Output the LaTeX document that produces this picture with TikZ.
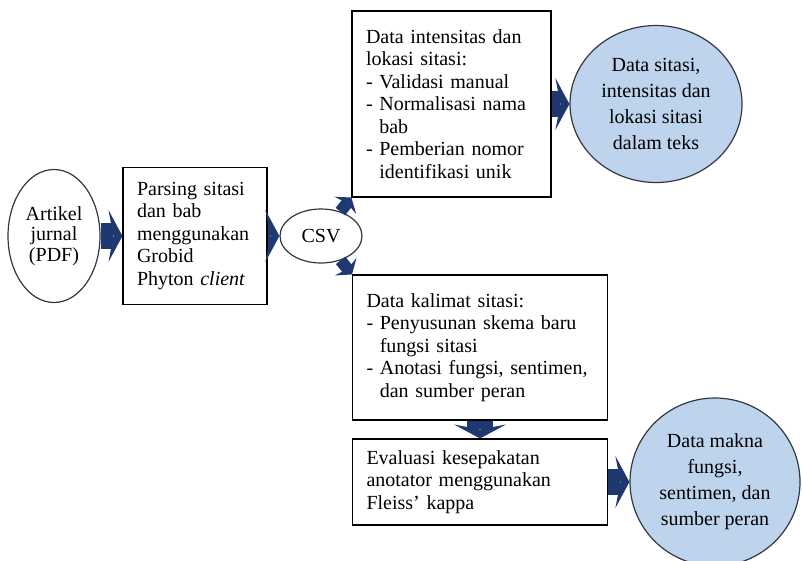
\documentclass[tikz,border=0pt]{standalone}
\usepackage{fontspec}
\setmainfont{Liberation Serif}
\usetikzlibrary{arrows.meta,shapes.geometric}

\definecolor{navyarrow}{RGB}{31,56,112}
\definecolor{paleblue}{RGB}{190,212,236}
\definecolor{rimgray}{RGB}{50,55,65}

\tikzset{
	stepbox/.style={draw=black, line width=1.1pt, fill=white, align=left, inner xsep=14pt, inner ysep=0pt, font=\fontsize{20}{22.5}\selectfont},
	oval/.style={ellipse, draw=rimgray, line width=1.2pt, fill=white, align=center, inner sep=0pt, font=\fontsize{20}{20.5}\selectfont},
	result/.style={ellipse, draw=rimgray, line width=1.2pt, fill=paleblue, align=center, inner sep=0pt, font=\fontsize{20}{26}\selectfont},
	flow/.style={draw=navyarrow, line width=26pt, -{Stealth[length=14pt, width=52pt, inset=5pt, line width=0pt]}},
	flowsmall/.style={draw=navyarrow, line width=12pt, -{Stealth[length=10pt, width=28pt, inset=3pt, line width=0pt]}}
}

\begin{document}
\begin{tikzpicture}[x=1pt, y=-1pt]
	\useasboundingbox (0,0) rectangle (802,560);
	
	\node[oval, minimum width=92pt, minimum height=133pt] (pdf) at (54,236) {Artikel\\jurnal\\(PDF)};
	\node[stepbox, text width=116pt, minimum height=137pt] (parse) at (195,236) {Parsing sitasi\\dan bab\\menggunakan\\Grobid\\Phyton \textit{client}};
	\node[oval, minimum width=82pt, minimum height=54pt] (csv) at (321,236) {CSV};
	
	\node[stepbox, text width=171pt, minimum height=186pt] (intens) at (451.5,104) {Data intensitas dan\\lokasi sitasi:\\- Validasi manual\\- Normalisasi nama\\\phantom{- }bab\\- Pemberian nomor\\\phantom{- }identifikasi unik};
	\node[result, minimum width=172pt, minimum height=157pt] (sitasi) at (656,104) {Data sitasi,\\intensitas dan\\lokasi sitasi\\dalam teks};
	
	\node[stepbox, text width=227pt, minimum height=145pt] (kalimat) at (480,347.5) {Data kalimat sitasi:\\- Penyusunan skema baru\\\phantom{- }fungsi sitasi\\- Anotasi fungsi, sentimen,\\\phantom{- }dan sumber peran};
	\node[stepbox, text width=227pt, minimum height=86pt] (eval) at (480,482) {Evaluasi kesepakatan\\anotator menggunakan\\Fleiss' kappa};
	\node[result, minimum width=170pt, minimum height=168pt] (makna) at (715,482) {Data makna\\fungsi,\\sentimen, dan\\sumber peran};
	
	% panah blok
	\draw[flow] (pdf) -- (parse);
	\draw[flow] (parse) -- (csv);
	\draw[flowsmall] (csv) -- (intens.south west);
	\draw[flowsmall] (csv) -- (kalimat.north west);
	\draw[flow] (intens) -- (sitasi);
	\draw[flow] (kalimat) -- (eval);
	\draw[flow] (eval) -- (makna);
	
\end{tikzpicture}
\end{document}
